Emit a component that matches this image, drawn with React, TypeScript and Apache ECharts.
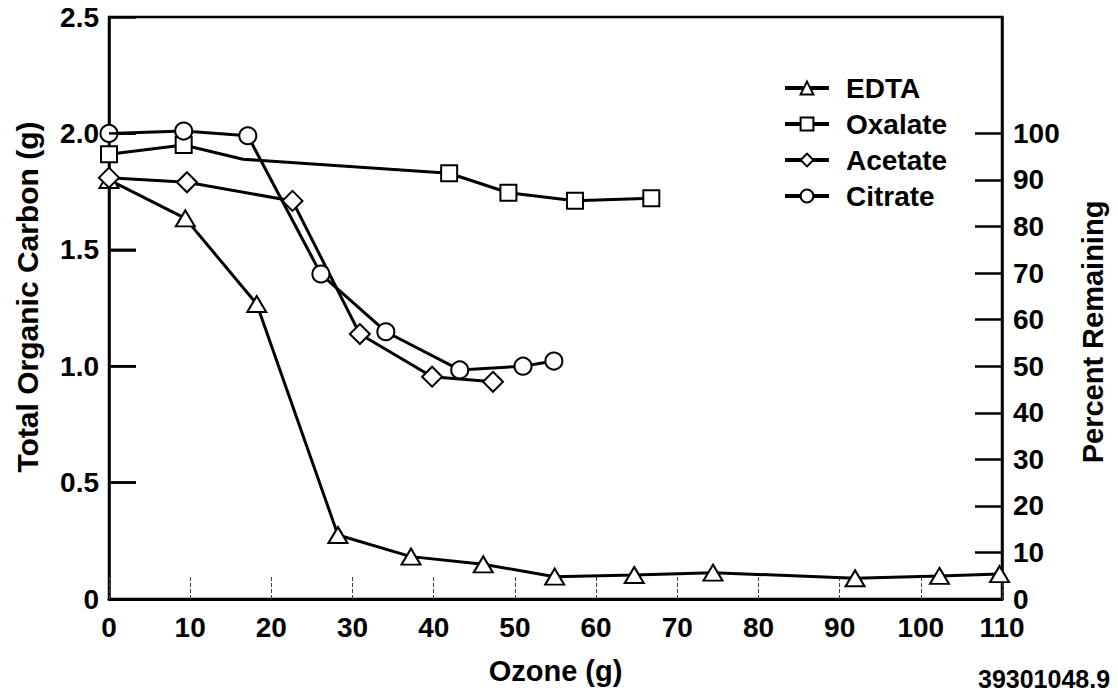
import { useEffect, useRef } from 'react';
import * as echarts from 'echarts';

const FONT = 'Liberation Sans, Arial, Helvetica, sans-serif';

const xTickValues = [0, 10, 20, 30, 40, 50, 60, 70, 80, 90, 100, 110];
const leftTickValues = [0, 0.5, 1.0, 1.5, 2.0, 2.5];
const rightTickValues = [0, 10, 20, 30, 40, 50, 60, 70, 80, 90, 100];

const seriesNames = ['EDTA', 'Oxalate', 'Acetate', 'Citrate'];

const edta: [number, number][] = [
  [0, 1.8], [9.4, 1.635], [18.2, 1.267], [28.2, 0.275], [37.2, 0.182], [46.1, 0.149],
  [54.9, 0.096], [64.7, 0.103], [74.4, 0.113], [91.9, 0.089], [102.3, 0.099], [109.7, 0.107],
];
const oxalate: [number, number][] = [
  [0, 1.91], [9.2, 1.95], [16.5, 1.889], [41.9, 1.829], [49.2, 1.745], [57.4, 1.711], [66.8, 1.721],
];
// index of the oxalate bend drawn without a marker
const oxalateBendIndex = 2;
const acetate: [number, number][] = [
  [0, 1.81], [9.6, 1.79], [22.6, 1.71], [30.9, 1.138], [39.8, 0.955], [47.3, 0.933],
];
const citrate: [number, number][] = [
  [0, 2.0], [9.2, 2.01], [17.1, 1.99], [26.1, 1.396], [34.1, 1.148], [43.2, 0.984], [51.0, 1.0], [54.8, 1.022],
];

const texts = {
  xTitle: 'Ozone (g)',
  leftTitle: 'Total Organic Carbon (g)',
  rightTitle: 'Percent Remaining',
  code: '39301048.9',
};

function mkSeries(name: string, data: any[], symbol: string, size: any, z: number) {
  return {
    name,
    type: 'line',
    data,
    symbol,
    symbolSize: size,
    showAllSymbol: true,
    z,
    lineStyle: { color: '#000', width: 3 },
    itemStyle: { color: '#fff', borderColor: '#000', borderWidth: 2 },
    emphasis: { disabled: true },
  };
}

export default function App() {
  const ref = useRef<HTMLDivElement>(null);
  useEffect(() => {
    const chart = echarts.init(ref.current!, null, { renderer: 'svg' });
    const oxData = oxalate.map((p, i) => (i === oxalateBendIndex ? { value: p, symbol: 'none' } : p));
    const leftTickData = leftTickValues
      .filter((v) => v > leftTickValues[0] && v < leftTickValues[leftTickValues.length - 1])
      .map((v) => [xTickValues[0], v]);
    chart.setOption({
      animation: false,
      backgroundColor: '#fff',
      textStyle: { fontFamily: FONT },
      grid: {
        left: 109, right: 116, top: 17, bottom: 93,
        show: true, borderColor: '#000', borderWidth: 2.5,
      },
      legend: {
        data: seriesNames,
        orient: 'vertical',
        left: 778,
        top: 69,
        itemWidth: 44,
        itemHeight: 16,
        itemGap: 8,
        selectedMode: false,
        lineStyle: { width: 4 },
        textStyle: { fontSize: 28, fontWeight: 'bold', color: '#000', fontFamily: FONT, padding: [0, 0, 0, 12] },
      },
      xAxis: {
        type: 'value',
        min: xTickValues[0],
        max: xTickValues[xTickValues.length - 1],
        interval: 10,
        splitLine: { show: false },
        axisLine: { lineStyle: { color: '#000', width: 3 } },
        axisTick: { inside: true, length: 22, lineStyle: { color: '#444', width: 1, type: [4, 2] } },
        axisLabel: {
          color: '#000', fontSize: 28, fontWeight: 'bold', fontFamily: FONT, margin: 14,
          customValues: xTickValues,
        },
        name: texts.xTitle,
        nameLocation: 'middle',
        nameGap: 57,
        nameTextStyle: { color: '#000', fontSize: 29, fontWeight: 'bold', fontFamily: FONT },
      },
      yAxis: [
        {
          type: 'value',
          min: leftTickValues[0],
          max: leftTickValues[leftTickValues.length - 1],
          interval: 0.5,
          position: 'left',
          splitLine: { show: false },
          axisLine: { show: true, lineStyle: { color: '#000', width: 2.5 } },
          axisTick: {
            show: true, inside: true, length: 27,
            lineStyle: { color: '#000', width: 2.5 },
          },
          axisLabel: {
            show: true,
            color: '#000', fontSize: 28, fontWeight: 'bold', fontFamily: FONT, margin: 10,
            formatter: (v: number) => (v === 0 ? '0' : v.toFixed(1)),
          },
        },
        {
          type: 'value',
          min: 0,
          max: 125,
          interval: 10,
          position: 'right',
          splitLine: { show: false },
          axisLine: { show: true, lineStyle: { color: '#000', width: 2.5 } },
          axisTick: {
            show: true, inside: true, length: 27, lineStyle: { color: '#000', width: 2.5 },
            customValues: rightTickValues,
          },
          axisLabel: {
            color: '#000', fontSize: 28, fontWeight: 'bold', fontFamily: FONT, margin: 11,
            customValues: rightTickValues,
          },
        },
      ],
      graphic: [
        {
          type: 'text', x: 27, y: 297, rotation: Math.PI / 2,
          style: {
            text: texts.leftTitle, font: `bold 30px ${FONT}`, fill: '#000',
            textAlign: 'center', textVerticalAlign: 'middle', align: 'center', verticalAlign: 'middle',
          },
        },
        {
          type: 'text', x: 1093, y: 332, rotation: Math.PI / 2,
          style: {
            text: texts.rightTitle, font: `bold 29px ${FONT}`, fill: '#000',
            textAlign: 'center', textVerticalAlign: 'middle', align: 'center', verticalAlign: 'middle',
          },
        },
        {
          type: 'text', x: 978, y: 666,
          style: {
            text: texts.code, font: `bold 25px ${FONT}`, fill: '#000',
            textAlign: 'left', textVerticalAlign: 'top', align: 'left', verticalAlign: 'top',
          },
        },
      ],
      series: [
        {
          type: 'custom',
          name: 'leftTicks',
          coordinateSystem: 'cartesian2d',
          xAxisIndex: 0,
          yAxisIndex: 0,
          silent: true,
          z: 10,
          data: leftTickData,
          renderItem: (params: any, api: any) => {
            const p = api.coord([api.value(0), api.value(1)]);
            return {
              type: 'line',
              shape: { x1: p[0], y1: p[1], x2: p[0] + 27, y2: p[1] },
              style: { stroke: '#000', lineWidth: 2.5 },
            };
          },
        },
        mkSeries('EDTA', edta, 'triangle', [19, 16], 3),
        mkSeries('Oxalate', oxData, 'rect', 16, 4),
        mkSeries('Acetate', acetate, 'diamond', 20, 5),
        mkSeries('Citrate', citrate, 'circle', 17, 6),
      ],
    });
    return () => chart.dispose();
  }, []);
  return (
    <div
      ref={ref}
      style={{ position: 'absolute', left: 0, top: 0, width: 1118, height: 692, background: '#fff' }}
    />
  );
}
